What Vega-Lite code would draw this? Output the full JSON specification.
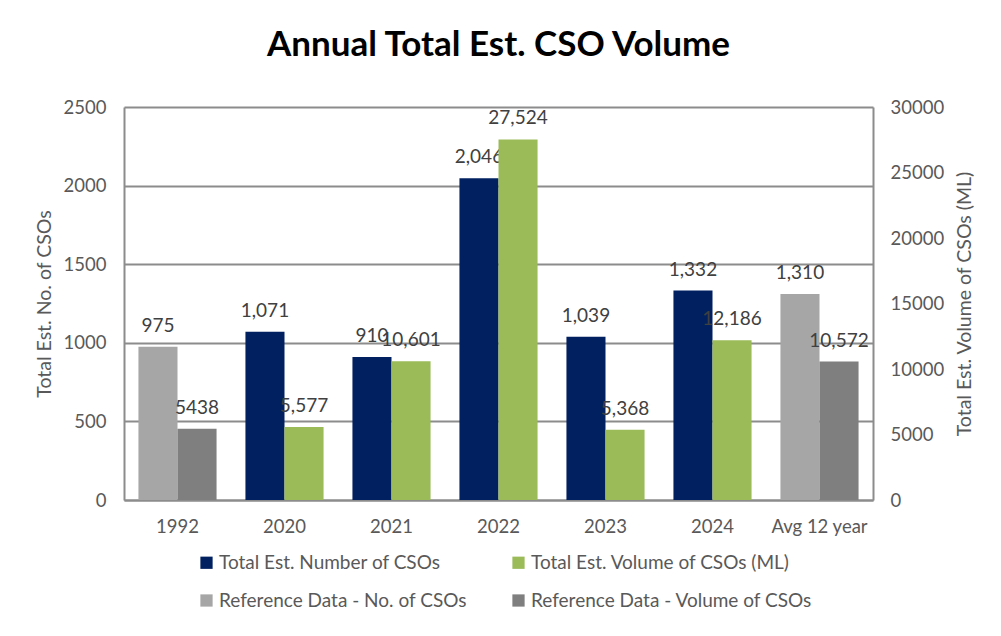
{
  "$schema": "https://vega.github.io/schema/vega-lite/v6.json",
  "autosize": {"type": "none"},
  "width": 749,
  "height": 393,
  "padding": {"left": 124, "top": 107, "right": 128, "bottom": 136},
  "background": "white",
  "title": {
    "text": "Annual Total Est. CSO Volume",
    "font": "Lato",
    "fontSize": 35,
    "fontWeight": "bold",
    "color": "black",
    "anchor": "middle",
    "offset": 35
  },
  "data": {
    "values": [
      {"year": "1992", "measure": "count", "slot": "a", "series": "Reference Data - No. of CSOs", "value": 975, "label": "975"},
      {"year": "1992", "measure": "volume", "slot": "b", "series": "Reference Data - Volume of CSOs", "value": 5438, "label": "5438"},
      {"year": "2020", "measure": "count", "slot": "a", "series": "Total Est. Number of CSOs", "value": 1071, "label": "1,071"},
      {"year": "2020", "measure": "volume", "slot": "b", "series": "Total Est. Volume of CSOs (ML)", "value": 5577, "label": "5,577"},
      {"year": "2021", "measure": "count", "slot": "a", "series": "Total Est. Number of CSOs", "value": 910, "label": "910"},
      {"year": "2021", "measure": "volume", "slot": "b", "series": "Total Est. Volume of CSOs (ML)", "value": 10601, "label": "10,601"},
      {"year": "2022", "measure": "count", "slot": "a", "series": "Total Est. Number of CSOs", "value": 2046, "label": "2,046"},
      {"year": "2022", "measure": "volume", "slot": "b", "series": "Total Est. Volume of CSOs (ML)", "value": 27524, "label": "27,524"},
      {"year": "2023", "measure": "count", "slot": "a", "series": "Total Est. Number of CSOs", "value": 1039, "label": "1,039"},
      {"year": "2023", "measure": "volume", "slot": "b", "series": "Total Est. Volume of CSOs (ML)", "value": 5368, "label": "5,368"},
      {"year": "2024", "measure": "count", "slot": "a", "series": "Total Est. Number of CSOs", "value": 1332, "label": "1,332"},
      {"year": "2024", "measure": "volume", "slot": "b", "series": "Total Est. Volume of CSOs (ML)", "value": 12186, "label": "12,186"},
      {"year": "Avg 12 year", "measure": "count", "slot": "a", "series": "Reference Data - No. of CSOs", "value": 1310, "label": "1,310"},
      {"year": "Avg 12 year", "measure": "volume", "slot": "b", "series": "Reference Data - Volume of CSOs", "value": 10572, "label": "10,572"}
    ]
  },
  "encoding": {
    "x": {
      "field": "year",
      "type": "nominal",
      "sort": null,
      "scale": {"paddingInner": 0.27, "paddingOuter": 0.135},
      "axis": {
        "title": null,
        "labelAngle": 0,
        "labelFont": "Lato",
        "labelFontSize": 18.5,
        "labelColor": "#595959",
        "labelPadding": 17,
        "ticks": false,
        "domainColor": "#8c8c8c",
        "domainWidth": 2
      }
    },
    "xOffset": {
      "field": "slot",
      "type": "nominal",
      "scale": {"domain": ["a", "b"], "paddingInner": 0, "paddingOuter": 0}
    }
  },
  "layer": [
    {
      "transform": [{"filter": "datum.measure == 'count'"}],
      "encoding": {
        "y": {
          "field": "value",
          "type": "quantitative",
          "scale": {"domain": [0, 2500], "nice": false},
          "axis": {
            "orient": "left",
            "title": "Total Est. No. of CSOs",
            "titleFont": "Lato",
            "titleFontSize": 19.5,
            "titleFontWeight": "normal",
            "titleColor": "#595959",
            "titlePadding": 9,
            "values": [0, 500, 1000, 1500, 2000, 2500],
            "format": "d",
            "labelFont": "Lato",
            "labelFontSize": 18.5,
            "labelColor": "#595959",
            "labelPadding": 18,
            "ticks": false,
            "grid": true,
            "gridColor": "#8c8c8c",
            "gridWidth": 2,
            "domainColor": "#8c8c8c",
            "domainWidth": 2
          }
        }
      },
      "layer": [
        {
          "mark": {"type": "bar"},
          "encoding": {
            "color": {
              "field": "series",
              "type": "nominal",
              "scale": {
                "domain": ["Total Est. Number of CSOs", "Total Est. Volume of CSOs (ML)", "Reference Data - No. of CSOs", "Reference Data - Volume of CSOs"],
                "range": ["#002060", "#9BBB59", "#A6A6A6", "#7F7F7F"]
              },
              "legend": {
                "title": null,
                "orient": "none",
                "legendX": 73,
                "legendY": 446,
                "direction": "horizontal",
                "columns": 2,
                "columnPadding": 42,
                "rowPadding": 18,
                "symbolType": "square",
                "symbolSize": 150,
                "symbolStrokeWidth": 0,
                "labelFont": "Lato",
                "labelFontSize": 19,
                "labelColor": "#595959",
                "labelLimit": 400,
                "labelOffset": 3
              }
            }
          }
        },
        {
          "mark": {"type": "text", "baseline": "middle", "dy": -21, "font": "Lato", "fontSize": 19, "color": "#404040"},
          "encoding": {"text": {"field": "label"}}
        }
      ]
    },
    {
      "transform": [{"filter": "datum.measure == 'volume'"}],
      "encoding": {
        "y": {
          "field": "value",
          "type": "quantitative",
          "scale": {"domain": [0, 30000], "nice": false},
          "axis": {
            "orient": "right",
            "title": "Total Est. Volume of CSOs (ML)",
            "titleFont": "Lato",
            "titleFontSize": 19.5,
            "titleFontWeight": "normal",
            "titleColor": "#595959",
            "titleAngle": 270,
            "titleBaseline": "top",
            "titlePadding": 12,
            "values": [0, 5000, 10000, 15000, 20000, 25000, 30000],
            "format": "d",
            "labelFont": "Lato",
            "labelFontSize": 18.5,
            "labelColor": "#595959",
            "labelPadding": 17,
            "ticks": false,
            "grid": false,
            "domainColor": "#8c8c8c",
            "domainWidth": 2
          }
        }
      },
      "layer": [
        {
          "mark": {"type": "bar"},
          "encoding": {
            "color": {"field": "series", "type": "nominal"}
          }
        },
        {
          "mark": {"type": "text", "baseline": "middle", "dy": -21, "font": "Lato", "fontSize": 19, "color": "#404040"},
          "encoding": {"text": {"field": "label"}}
        }
      ]
    }
  ],
  "resolve": {"scale": {"y": "independent"}},
  "config": {"view": {"stroke": null}}
}
